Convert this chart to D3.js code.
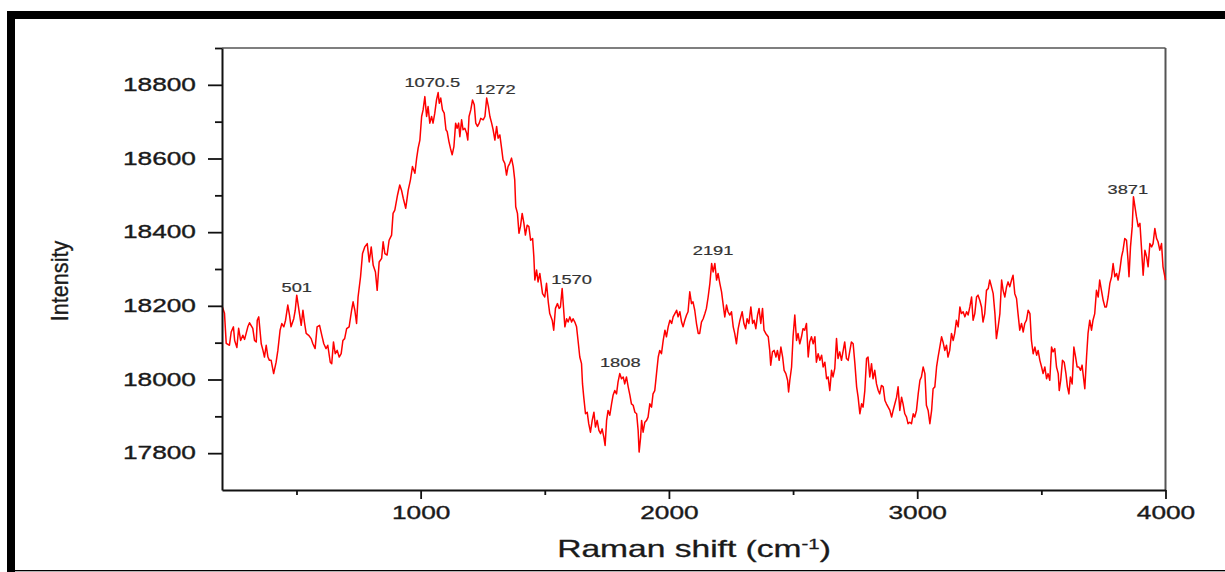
<!DOCTYPE html>
<html>
<head>
<meta charset="utf-8">
<script src="https://cdn.jsdelivr.net/npm/d3@7"></script>
<style>
  body { margin: 0; background: #fff; }
  text { font-family: "Liberation Sans", Arial, sans-serif; }
</style>
</head>
<body>
<div id="chart"></div>
<script>
const width = 1225, height = 572;
const margin = {top: 48, right: 59.5, bottom: 82, left: 222};
const SX = 1.46; // the source figure is stretched sideways

// Raman shift (cm-1)
const ramanShift = [
  200,210,217,230,237,246,251,260,267,275,
  284,291,304,311,324,331,338,342,348,358,
  365,371,378,385,391,398,408,418,425,434,
  441,449,456,465,472,478,489,495,501,512,
  519,526,532,539,549,559,566,575,583,593,
  602,610,619,626,636,642,649,656,664,672,
  680,687,694,702,712,722,728,735,742,748,
  758,766,775,785,793,801,809,818,825,833,
  843,849,856,865,873,883,889,896,907,916,
  923,930,940,950,959,967,977,984,990,997,
  1004,1010,1017,1024,1030,1037,1044,1050,1057,1064,
  1070.5,1075,1081,1088,1095,1102,1107,1114,1120,1127,
  1134,1141,1147,1153,1158,1165,1171,1178,1185,1190,
  1195,1202,1209,1216,1222,1229,1236,1242,1252,1259,
  1266,1273,1279,1286,1292,1299,1306,1312,1319,1326,
  1332,1339,1346,1352,1359,1366,1373,1379,1383,1390,
  1396,1402,1409,1416,1422,1429,1436,1443,1451,1456,
  1460,1467,1473,1480,1491,1500,1507,1514,1520,1530,
  1536,1543,1551,1558,1563,1570,1581,1588,1594,1601,
  1608,1614,1621,1628,1634,1641,1648,1652,1657,1664,
  1671,1677,1684,1691,1698,1704,1711,1718,1725,1731,
  1738,1743,1749,1755,1762,1769,1775,1782,1789,1795,
  1802,1809,1816,1822,1829,1836,1843,1849,1856,1863,
  1870,1876,1880,1886,1890,1896,1903,1910,1916,1923,
  1930,1936,1943,1950,1957,1963,1970,1977,1984,1990,
  1997,2004,2011,2017,2024,2031,2037,2044,2051,2057,
  2064,2071,2077,2084,2091,2097,2104,2111,2118,2124,
  2131,2138,2145,2151,2158,2165,2172,2178,2185,2192,
  2198,2205,2212,2218,2225,2232,2238,2245,2252,2259,
  2265,2272,2279,2286,2295,2302,2309,2315,2322,2330,
  2337,2343,2350,2357,2363,2370,2377,2383,2390,2400,
  2406,2410,2417,2424,2431,2437,2444,2451,2458,2464,
  2471,2478,2482,2487,2494,2500,2507,2514,2520,2527,
  2534,2540,2547,2554,2561,2567,2574,2581,2588,2594,
  2601,2608,2615,2621,2628,2635,2641,2648,2655,2661,
  2668,2675,2681,2688,2695,2702,2708,2715,2722,2729,
  2735,2742,2749,2756,2762,2769,2776,2782,2789,2796,
  2802,2809,2816,2822,2829,2836,2843,2849,2856,2863,
  2870,2876,2883,2890,2897,2903,2910,2917,2923,2930,
  2937,2943,2950,2957,2963,2970,2977,2984,2990,2997,
  3004,3011,3017,3024,3031,3037,3044,3051,3058,3064,
  3071,3078,3084,3091,3098,3104,3111,3118,3124,3131,
  3138,3145,3151,3158,3165,3172,3178,3185,3192,3199,
  3205,3212,3219,3225,3232,3239,3245,3252,3259,3265,
  3272,3279,3286,3292,3299,3306,3313,3319,3326,3333,
  3340,3346,3353,3360,3366,3373,3380,3386,3393,3400,
  3406,3413,3420,3427,3433,3440,3447,3454,3460,3467,
  3474,3481,3487,3494,3501,3507,3514,3521,3527,3534,
  3541,3547,3554,3561,3568,3572,3578,3585,3592,3599,
  3605,3611,3617,3624,3631,3638,3644,3651,3658,3664,
  3671,3675,3682,3688,3695,3702,3708,3715,3722,3729,
  3735,3742,3749,3756,3762,3769,3776,3783,3789,3796,
  3803,3809,3816,3823,3829,3836,3843,3849,3853,3859,
  3866,3871,3883,3890,3897,3903,3910,3917,3924,3930,
  3937,3944,3950,3957,3964,3970,3977,3984,3990,4000
];

// intensity at each shift
const intensity = [
  18200,18180,18098,18093,18129,18143,18106,18087,18139,18106,
  18120,18109,18143,18154,18139,18106,18102,18161,18170,18097,
  18079,18061,18093,18061,18052,18052,18016,18047,18079,18134,
  18152,18143,18161,18202,18174,18143,18165,18188,18229,18179,
  18147,18188,18156,18125,18120,18111,18097,18084,18143,18147,
  18120,18097,18084,18093,18047,18043,18102,18070,18079,18061,
  18070,18106,18111,18138,18143,18188,18211,18188,18152,18224,
  18279,18342,18360,18369,18319,18360,18310,18292,18242,18319,
  18329,18374,18342,18338,18378,18392,18451,18460,18501,18528,
  18514,18492,18465,18514,18542,18578,18560,18601,18628,18650,
  18714,18732,18768,18714,18741,18696,18714,18696,18723,18759,
  18779,18750,18764,18732,18723,18678,18673,18646,18628,18610,
  18632,18696,18682,18696,18659,18705,18678,18682,18669,18650,
  18714,18732,18759,18746,18696,18687,18696,18709,18705,18714,
  18764,18741,18714,18696,18678,18650,18687,18655,18664,18628,
  18596,18587,18555,18578,18587,18601,18578,18542,18469,18451,
  18397,18415,18451,18424,18392,18419,18415,18378,18383,18333,
  18270,18297,18265,18288,18233,18224,18261,18211,18179,18161,
  18134,18193,18206,18193,18197,18247,18143,18165,18156,18170,
  18156,18165,18156,18143,18106,18061,18043,17988,17952,17907,
  17911,17880,17857,17889,17911,17871,17889,17862,17853,17866,
  17843,17821,17889,17916,17903,17934,17957,17970,17961,17993,
  18016,18002,18007,17988,18007,17980,17957,17934,17930,17911,
  17907,17862,17803,17843,17889,17857,17884,17889,17898,17934,
  17925,17961,17970,18016,18061,18079,18070,18106,18134,18116,
  18143,18161,18152,18170,18179,18188,18170,18184,18156,18143,
  18161,18175,18184,18238,18206,18211,18188,18152,18125,18125,
  18156,18165,18179,18193,18224,18261,18315,18292,18315,18270,
  18288,18261,18238,18206,18170,18202,18184,18175,18184,18143,
  18125,18097,18138,18161,18184,18152,18138,18165,18152,18197,
  18152,18161,18138,18175,18193,18152,18193,18134,18125,18116,
  18079,18039,18075,18079,18061,18079,18052,18088,18061,18025,
  18016,17998,17966,17998,18034,18116,18175,18106,18125,18097,
  18116,18138,18134,18152,18061,18102,18116,18097,18116,18047,
  18070,18052,18066,18034,18047,18002,18007,17970,18025,18007,
  18030,18111,18057,18075,18052,18079,18102,18057,18052,18079,
  18102,18097,18043,17980,17952,17907,17934,17925,17970,18057,
  18061,18007,18043,18002,18025,17988,17970,17961,17984,17980,
  17943,17934,17925,17916,17898,17916,17934,17952,17980,17916,
  17952,17934,17907,17898,17880,17884,17880,17907,17898,17916,
  17961,17998,18007,18034,18016,17930,17916,17880,17916,17975,
  17980,18034,18061,18088,18116,18102,18079,18093,18061,18079,
  18125,18106,18125,18161,18143,18197,18179,18184,18170,18184,
  18175,18197,18224,18161,18179,18224,18229,18215,18197,18156,
  18179,18242,18247,18270,18252,18233,18179,18111,18143,18179,
  18270,18242,18224,18252,18265,18252,18270,18283,18233,18220,
  18179,18134,18152,18129,18152,18161,18188,18179,18106,18070,
  18088,18066,18079,18052,18034,18016,18034,18002,18016,17998,
  18088,18075,18084,18034,18016,17970,17998,18052,18047,18016,
  17980,17961,18007,17988,18088,18061,18034,18034,18025,18039,
  17998,17975,18061,18125,18161,18134,18161,18179,18242,18224,
  18270,18242,18215,18197,18197,18224,18261,18279,18315,18279,
  18288,18270,18297,18333,18351,18383,18378,18324,18279,18360,
  18415,18496,18442,18415,18424,18360,18283,18351,18333,18306,
  18369,18360,18369,18410,18383,18374,18351,18369,18306,18270
];

// tick values
const xMajor = [1000, 2000, 3000, 4000];
const xMinor = [500, 1500, 2500, 3500];
const yMajor = [17800, 18000, 18200, 18400, 18600, 18800];
const yMinor = [17900, 18100, 18300, 18500, 18700, 18900];

// peak annotations: text, and where the text sits (data units)
const peakLabels = ["501", "1070.5", "1272", "1570", "1808", "2191", "3871"];
const labelShift = [501, 1047, 1301, 1608, 1804, 2178, 3848];
const labelIntensity = [18237, 18795, 18776, 18259, 18033, 18338, 18504];

const svg = d3.select("#chart").append("svg")
    .attr("width", width)
    .attr("height", height)
    .style("display", "block");

svg.append("rect").attr("width", width).attr("height", height).attr("fill", "#fff");

// heavy black frame of the scanned figure
svg.append("rect").attr("x", 7).attr("y", 11).attr("width", width - 7).attr("height", 8).attr("fill", "#000");
svg.append("rect").attr("x", 7).attr("y", 11).attr("width", 8).attr("height", height - 11).attr("fill", "#000");
svg.append("rect").attr("x", 7).attr("y", 570).attr("width", width - 7).attr("height", 1.3).attr("fill", "#000");

const x = d3.scaleLinear()
    .domain([200, 4000])
    .range([margin.left, width - margin.right]);

const y = d3.scaleLinear()
    .domain([17700, 18900])
    .range([height - margin.bottom, margin.top]);

// top and right frame of the plot
svg.append("line")
    .attr("x1", x(200)).attr("x2", x(4000))
    .attr("y1", y(18900)).attr("y2", y(18900))
    .attr("stroke", "#555").attr("stroke-width", 1.3);
svg.append("line")
    .attr("x1", x(4000)).attr("x2", x(4000))
    .attr("y1", y(18900)).attr("y2", y(17700))
    .attr("stroke", "#555").attr("stroke-width", 2);

// spectrum
const points = ramanShift.map((s, i) => [s, intensity[i]]);
const line = d3.line()
    .x(d => x(d[0]))
    .y(d => y(d[1]));

svg.append("path")
    .datum(points)
    .attr("fill", "none")
    .attr("stroke", "#ff0000")
    .attr("stroke-width", 1.5)
    .attr("stroke-linejoin", "round")
    .attr("d", line);

// x axis
const gx = svg.append("g")
    .attr("transform", `translate(0,${y(17700)})`)
    .style("color", "#111")
    .call(d3.axisBottom(x).tickValues(xMajor).tickSize(9).tickSizeOuter(0).tickFormat(d3.format("d")));
gx.append("g")
    .call(d3.axisBottom(x).tickValues(xMinor).tickSize(5).tickFormat(""))
    .call(g => g.select(".domain").remove());
gx.select(".domain").attr("stroke-width", 2);
gx.selectAll(".tick line").attr("stroke-width", 1.8);
gx.selectAll(".tick text")
    .attr("y", null).attr("dy", null)
    .attr("font-size", 18)
    .attr("fill", "#1a1a1a")
    .attr("stroke", "#1a1a1a").attr("stroke-width", 0.35)
    .attr("transform", `translate(0,29) scale(${SX},1)`);

// y axis
const gy = svg.append("g")
    .attr("transform", `translate(${x(200)},0)`)
    .style("color", "#111")
    .call(d3.axisLeft(y).tickValues(yMajor).tickSize(14).tickSizeOuter(0).tickFormat(d3.format("d")));
gy.append("g")
    .call(d3.axisLeft(y).tickValues(yMinor).tickSize(7).tickFormat(""))
    .call(g => g.select(".domain").remove());
gy.select(".domain").attr("stroke-width", 2);
gy.selectAll(".tick line").attr("stroke-width", 1.8);
gy.selectAll(".tick text")
    .attr("x", null).attr("dy", null)
    .attr("font-size", 18)
    .attr("fill", "#1a1a1a")
    .attr("stroke", "#1a1a1a").attr("stroke-width", 0.35)
    .attr("transform", `translate(-26,5.5) scale(${SX},1)`);

// peak labels
svg.append("g")
    .selectAll("text")
    .data(peakLabels)
    .join("text")
    .attr("transform", (d, i) => `translate(${x(labelShift[i])},${y(labelIntensity[i])}) scale(${SX},1)`)
    .attr("text-anchor", "middle")
    .attr("font-size", 12.5)
    .attr("fill", "#333")
    .attr("stroke", "#333").attr("stroke-width", 0.2)
    .text(d => d);

// axis titles
const xTitle = svg.append("text")
    .attr("transform", `translate(694,557) scale(${SX},1)`)
    .attr("text-anchor", "middle")
    .attr("font-size", 23)
    .attr("fill", "#1a1a1a")
    .attr("stroke", "#1a1a1a").attr("stroke-width", 0.3);
xTitle.append("tspan").text("Raman shift (cm");
xTitle.append("tspan").attr("dy", -8).attr("font-size", 14).text("-1");
xTitle.append("tspan").attr("dy", 8).text(")");

svg.append("text")
    .attr("transform", "translate(68,281) rotate(-90) scale(1.03,1.12)")
    .attr("text-anchor", "middle")
    .attr("font-size", 21)
    .attr("fill", "#1a1a1a")
    .attr("stroke", "#1a1a1a").attr("stroke-width", 0.3)
    .text("Intensity");
</script>
</body>
</html>
